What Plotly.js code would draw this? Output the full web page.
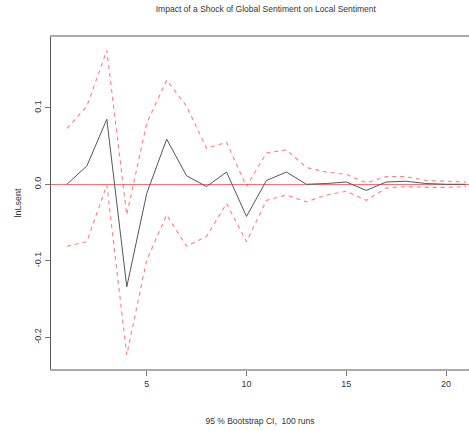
<!DOCTYPE html>
<html>
<head>
<meta charset="utf-8">
<script src="https://cdn.plot.ly/plotly-3.0.1.min.js"></script>
<style>
html, body { margin: 0; padding: 0; background: #fff; overflow: hidden; }
#chart { width: 469px; height: 431px; }
</style>
</head>
<body>
<div id="chart"></div>
<script>
// Periods (horizon)
const periods = [1,2,3,4,5,6,7,8,9,10,11,12,13,14,15,16,17,18,19,20,21];
// Orthogonal impulse response of lnLsent to a shock in global sentiment
const irf = [0.000, 0.024, 0.085, -0.134, -0.012, 0.059, 0.011, -0.003, 0.016, -0.042,
             0.005, 0.016, 0.000, 0.001, 0.003, -0.008, 0.003, 0.004, 0.001, 0.000, 0.000];
// 95 % bootstrap confidence band
const upper = [0.073, 0.102, 0.175, -0.040, 0.080, 0.136, 0.102, 0.047, 0.055, -0.003,
               0.041, 0.045, 0.022, 0.016, 0.013, 0.002, 0.010, 0.010, 0.005, 0.004, 0.003];
const lower = [-0.081, -0.075, -0.001, -0.223, -0.099, -0.040, -0.081, -0.068, -0.025, -0.075,
               -0.021, -0.014, -0.023, -0.014, -0.009, -0.021, -0.005, -0.003, -0.004, -0.004, -0.003];
// Axis ticks
const xTicks = [5, 10, 15, 20];
const yTicks = [-0.2, -0.1, 0.0, 0.1];
const yTickText = ["-0.2", "-0.1", "0.0", "0.1"];

const FONT = "'Liberation Sans Narrow', 'Arial Narrow', 'Liberation Sans', Arial, sans-serif";

const traces = [
  { x: periods, y: upper, type: 'scatter', mode: 'lines', name: 'Upper',
    line: { color: 'rgba(255,40,40,0.6)', width: 1.1, dash: '4px,4px' }, hoverinfo: 'x+y' },
  { x: periods, y: lower, type: 'scatter', mode: 'lines', name: 'Lower',
    line: { color: 'rgba(255,40,40,0.6)', width: 1.1, dash: '4px,4px' }, hoverinfo: 'x+y' },
  { x: periods, y: irf, type: 'scatter', mode: 'lines', name: 'lnLsent',
    line: { color: '#555555', width: 1 }, hoverinfo: 'x+y' }
];

const layout = {
  width: 469, height: 431,
  margin: { l: 51, r: 0, t: 37, b: 62 },
  paper_bgcolor: '#ffffff', plot_bgcolor: '#ffffff',
  showlegend: false,
  font: { family: FONT, size: 9, color: '#333333' },
  title: {
    text: 'Impact of a Shock of Global Sentiment on Local Sentiment',
    font: { family: FONT, size: 8.5, color: '#333333' },
    xref: 'paper', x: 0.514, xanchor: 'center',
    yref: 'container', y: 0.980, yanchor: 'middle'
  },
  xaxis: {
    range: [0.203, 21.15],
    tickmode: 'array', tickvals: xTicks,
    ticks: 'outside', ticklen: 5, tickwidth: 1, tickcolor: '#777777',
    showline: true, linecolor: '#aaaaaa', linewidth: 2, mirror: true,
    showgrid: false, zeroline: false,
    tickfont: { family: FONT, size: 9, color: '#333333' },
    title: { text: '95 % Bootstrap CI,  100 runs', standoff: 30,
             font: { family: FONT, size: 8.5, color: '#333333' } }
  },
  yaxis: {
    range: [-0.2414, 0.1925],
    tickmode: 'array', tickvals: yTicks, ticktext: yTickText,
    tickangle: -90,
    ticks: 'outside', ticklen: 5, tickwidth: 1, tickcolor: '#777777',
    showline: true, linecolor: '#555555', linewidth: 1,
    showgrid: false,
    zeroline: true, zerolinecolor: 'rgba(255,60,60,0.75)', zerolinewidth: 1.4,
    tickfont: { family: FONT, size: 9, color: '#333333' },
    title: { text: 'lnLsent', standoff: 10,
             font: { family: FONT, size: 9, color: '#333333' } }
  }
};

Plotly.newPlot('chart', traces, layout, { displayModeBar: false, staticPlot: true });
</script>
</body>
</html>
